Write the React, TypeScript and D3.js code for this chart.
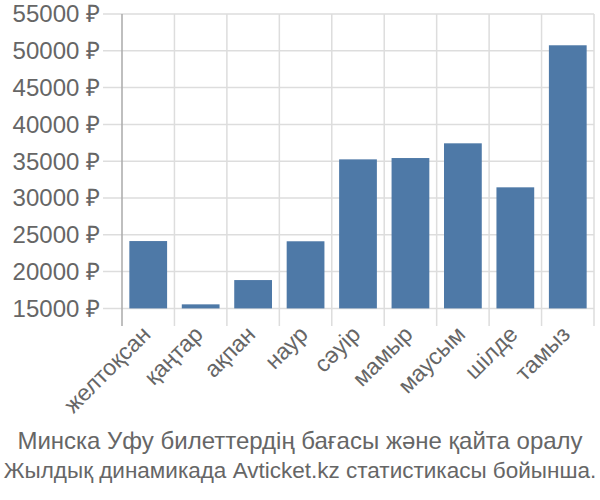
import React from "react";
import * as d3 from "d3";

const categories = ["желтоқсан", "қаңтар", "ақпан", "наур", "сәуір", "мамыр", "маусым", "шілде", "тамыз"];
const prices = [24150, 15550, 18850, 24120, 35250, 35430, 37430, 31450, 50750];
const yTicks = [15000, 20000, 25000, 30000, 35000, 40000, 45000, 50000, 55000];
const titleLines = ["Минска Уфу билеттердің бағасы және қайта оралу", "Жылдық динамикада Avticket.kz статистикасы бойынша."];

const W = 600, H = 500;
const left = 122, right = 594, top = 14, bottom = 308.4;
const font = "'Liberation Sans', Arial, sans-serif";
const textColor = "#666";

export default function App() {
  const x = d3.scaleBand<string>().domain(categories).range([left, right]).paddingInner(0.28).paddingOuter(0.14);
  const y = d3.scaleLinear().domain([15000, 55000]).range([bottom, top]);
  const step = x.step();
  const bounds = categories.map((_, i) => left + i * step).concat([right]);
  return (
    <svg width={W} height={H} style={{ position: "absolute", left: 0, top: 0 }}>
      <g>
        {yTicks.map((t) => (
          <line key={t} x1={103} x2={right} y1={y(t)} y2={y(t)} stroke="#ddd" strokeWidth={1.5} />
        ))}
        {bounds.map((b, i) => (
          <line key={i} x1={b} x2={b} y1={top} y2={326} stroke={i === 0 ? "#aaa" : "#ddd"} strokeWidth={1.5} />
        ))}
      </g>
      <g>
        {categories.map((c, i) => (
          <rect key={c} x={x(c)} y={y(prices[i])} width={x.bandwidth()} height={y(15000) - y(prices[i])} fill="#4e79a7" />
        ))}
      </g>
      <g fontFamily={font} fill={textColor}>
        {yTicks.map((t) => (
          <text key={t} x={100} y={y(t)} dy="0.35em" textAnchor="end" fontSize={24}>{`${t} ₽`}</text>
        ))}
        {categories.map((c) => (
          <text key={c} fontSize={23} transform={`translate(${(x(c) as number) + x.bandwidth() / 2 - 2},${330}) rotate(-45)`} textAnchor="end" dy="0.35em">{c}</text>
        ))}
      </g>
      <g fontFamily={font} fill={textColor} textAnchor="middle">
        <text x={300} y={449} fontSize={24}>{titleLines[0]}</text>
        <text x={300} y={478} fontSize={22.5}>{titleLines[1]}</text>
      </g>
    </svg>
  );
}
